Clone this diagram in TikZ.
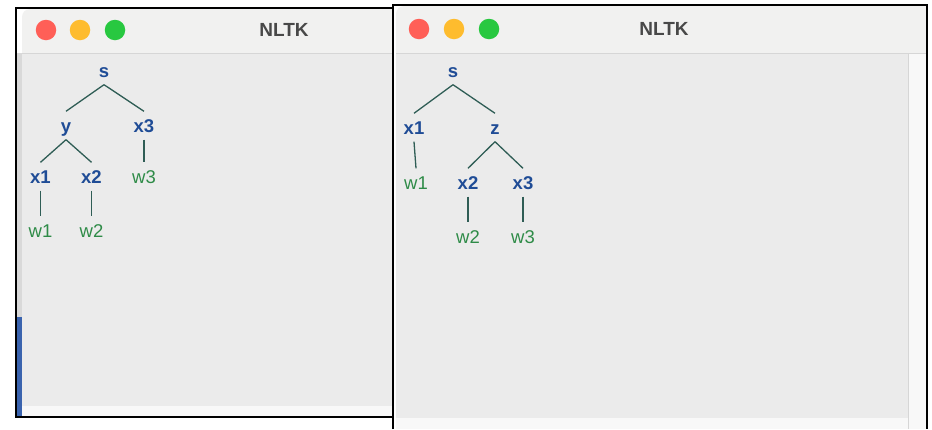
\documentclass[tikz,border=0pt]{standalone}
\usepackage{fontspec}
\setmainfont{Liberation Sans}
\definecolor{ntblue}{HTML}{1F4C96}
\definecolor{leafgreen}{HTML}{2E8B47}
\definecolor{edgecol}{HTML}{2F5D55}
\definecolor{titlebar}{HTML}{F1F1F0}
\definecolor{canvas}{HTML}{EBEBEB}
\definecolor{strip}{HTML}{F8F8F8}
\definecolor{divider}{HTML}{D6D6D6}
\definecolor{lightred}{HTML}{FF5F57}
\definecolor{lightyellow}{HTML}{FEBC2E}
\definecolor{lightgreen}{HTML}{28C840}
\definecolor{titletext}{HTML}{484848}
\definecolor{sidebar}{HTML}{3A63AE}
\tikzset{
  label base/.style={anchor=base, inner xsep=0pt, inner ysep=7.5pt,
    text height=13pt, text depth=0pt, font=\fontsize{18.5}{18.5}\selectfont},
  nonterm/.style={label base, text=ntblue, font=\fontsize{18.5}{18.5}\selectfont\bfseries},
  leaf/.style={label base, text=leafgreen},
  branch/.style={draw=edgecol, line width=1.3pt},
  light/.style={circle, minimum size=20.5pt, inner sep=0pt},
  wintitle/.style={text=titletext, font=\fontsize{19}{19}\selectfont\bfseries},
  frame/.style={draw=black, line width=1.4pt}
}
\begin{document}
\begin{tikzpicture}[x=1pt, y=-1pt]
\useasboundingbox (0,0) rectangle (932,429);
\fill[white] (0,0) rectangle (932,429);

% ---------- first window ----------
\fill[titlebar] (22,53) -- (22,17) arc[start angle=180, end angle=270, radius=8] -- (393,9) -- (393,53) -- cycle;
\fill[canvas] (22,53) rectangle (393,406);
\fill[strip] (22,406) rectangle (393,417);
\draw[divider, line width=0.8pt] (22,53) -- (393,53);
\fill[gray!30] (17,53) rectangle (22,317);
\fill[sidebar] (17,317) rectangle (22,417);
\draw[frame] (16,8) rectangle (393,417);

\node[light, fill=lightred]    (r1) at (46,30) {};
\node[light, fill=lightyellow] (y1) at (80,30) {};
\node[light, fill=lightgreen]  (g1) at (115,30) {};
\node[wintitle] (t1) at (284,30) {NLTK};

% tree (s (y x1 x2) x3)
\node[nonterm] (s)   at (104,77)  {s};
\node[nonterm] (y)   at (66,132)  {y};
\node[nonterm] (xc)  at (144,132) {x3};
\node[nonterm] (xa)  at (40.5,183)  {x1};
\node[nonterm] (xb)  at (91.5,183)  {x2};
\node[leaf]    (wc)  at (144,183) {w3};
\node[leaf]    (wa)  at (40.5,237)  {w1};
\node[leaf]    (wb)  at (91.5,237)  {w2};
\draw[branch] (s.south) -- (y.north);
\draw[branch] (s.south) -- (xc.north);
\draw[branch] (y.south) -- (xa.north);
\draw[branch] (y.south) -- (xb.north);
\draw[branch] (xa.south) -- (wa.north);
\draw[branch] (xb.south) -- (wb.north);
\draw[branch] (xc.south) -- (wc.north);

% ---------- second window ----------
\fill[white] (393,5) rectangle (927,429);
\fill[titlebar] (396,53) -- (396,14) arc[start angle=180, end angle=270, radius=8] -- (927,6) -- (927,53) -- cycle;
\fill[canvas] (396,53) rectangle (908,418);
\fill[strip] (908,53) rectangle (927,429);
\fill[strip] (396,418) rectangle (908,429);
\draw[divider, line width=0.8pt] (396,53) -- (927,53);
\draw[divider, line width=0.6pt] (908,53) -- (908,429);
\draw[frame] (393,429) -- (393,5) -- (927,5) -- (927,429);

\node[light, fill=lightred]    (r2) at (419,29) {};
\node[light, fill=lightyellow] (y2) at (454,29) {};
\node[light, fill=lightgreen]  (g2) at (489,29) {};
\node[wintitle] (t2) at (664,29) {NLTK};

% tree (s x1 (z x2 x3))
\node[nonterm] (s')  at (453,77)  {s};
\node[nonterm] (xa') at (414,134) {x1};
\node[nonterm] (z')  at (495,134) {z};
\node[leaf]    (wa') at (416,189) {w1};
\node[nonterm] (xb') at (468,189) {x2};
\node[nonterm] (xc') at (523,189) {x3};
\node[leaf]    (wb') at (468,243) {w2};
\node[leaf]    (wc') at (523,243) {w3};
\draw[branch] (s'.south) -- (xa'.north);
\draw[branch] (s'.south) -- (z'.north);
\draw[branch] (xa'.south) -- (wa'.north);
\draw[branch] (z'.south) -- (xb'.north);
\draw[branch] (z'.south) -- (xc'.north);
\draw[branch] (xb'.south) -- (wb'.north);
\draw[branch] (xc'.south) -- (wc'.north);
\end{tikzpicture}
\end{document}
